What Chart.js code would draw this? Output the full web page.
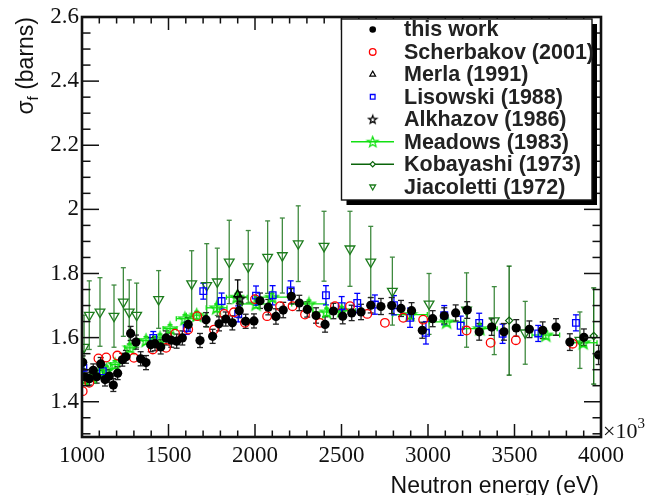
<!DOCTYPE html>
<html><head><meta charset="utf-8">
<style>html,body{margin:0;padding:0;background:#fff;overflow:hidden}canvas{display:block}</style>
<script src="https://cdn.jsdelivr.net/npm/chart.js@4.4.0/dist/chart.umd.min.js"></script>
</head><body>
<canvas id="c" width="664" height="495"></canvas>
<script>
// ---- tick labels ----
const xTickValues = [1000,1500,2000,2500,3000,3500,4000];
const xTickLabels = ['1000','1500','2000','2500','3000','3500','4000'];
const yTickValues = [1.4,1.6,1.8,2.0,2.2,2.4,2.6];
const yTickLabels = ['1.4','1.6','1.8','2','2.2','2.4','2.6'];

// ---- this work ----
const thisWorkE = [1004,1017,1042,1065,1085,1108,1133,1158,1181,1206,1233,1254,1281,1312,1339,1370,1397,1422,1455,1486,1516,1547,1580,1614,1682,1717,1755,1792,1831,1869,1909,1946,1994,2029,2077,2121,2163,2210,2256,2302,2353,2405,2453,2507,2559,2613,2669,2728,2790,2844,2905,2967,3027,3094,3160,3227,3296,3368,3439,3510,3586,3663,3740,3820,3901,3986];
const thisWorkXS = [1.523,1.478,1.472,1.498,1.478,1.518,1.469,1.480,1.452,1.489,1.531,1.540,1.613,1.586,1.534,1.522,1.578,1.581,1.571,1.599,1.592,1.589,1.599,1.641,1.591,1.656,1.604,1.643,1.658,1.646,1.684,1.651,1.652,1.715,1.695,1.666,1.686,1.729,1.708,1.688,1.669,1.641,1.683,1.667,1.677,1.680,1.701,1.697,1.700,1.691,1.684,1.623,1.659,1.668,1.677,1.686,1.618,1.633,1.618,1.630,1.626,1.623,1.633,1.586,1.601,1.546];
const thisWorkErr = [0.02,0.02,0.02,0.02,0.02,0.02,0.02,0.02,0.02,0.02,0.02,0.02,0.022,0.022,0.022,0.022,0.022,0.022,0.022,0.022,0.022,0.022,0.022,0.022,0.022,0.022,0.022,0.022,0.022,0.022,0.022,0.022,0.022,0.024,0.024,0.024,0.024,0.024,0.024,0.024,0.024,0.024,0.024,0.024,0.024,0.024,0.024,0.025,0.025,0.025,0.025,0.025,0.025,0.025,0.025,0.026,0.026,0.026,0.026,0.026,0.026,0.026,0.026,0.026,0.026,0.03];

// ---- Scherbakov (2001) ----
const scherbakovE = [1004,1042,1095,1140,1204,1300,1409,1486,1538,1614,1666,1763,1822,1878,1942,2000,2070,2145,2217,2289,2375,2462,2549,2649,2751,2857,2972,3223,3362,3508,3836];
const scherbakovXS = [1.433,1.459,1.535,1.538,1.544,1.537,1.563,1.568,1.612,1.625,1.667,1.625,1.674,1.679,1.646,1.720,1.667,1.698,1.698,1.672,1.646,1.698,1.698,1.674,1.646,1.662,1.656,1.622,1.584,1.592,1.581];

// ---- Merla (1991) ----
const merlaE = [1900];
const merlaXS = [1.735];
const merlaErr = [0.045];

// ---- Lisowski (1988) ----
const lisowskiE = [1008,1120,1412,1605,1701,1807,1903,2006,2102,2206,2410,2501,2591,2693,2803,2896,2988,3094,3189,3296,3431,3637,3855];
const lisowskiXS = [1.506,1.495,1.599,1.630,1.745,1.714,1.674,1.731,1.732,1.747,1.732,1.698,1.708,1.703,1.701,1.662,1.615,1.670,1.637,1.646,1.612,1.613,1.646];
const lisowskiErr = [0.02,0.02,0.02,0.02,0.025,0.025,0.025,0.03,0.03,0.03,0.03,0.03,0.03,0.03,0.03,0.03,0.035,0.03,0.03,0.03,0.03,0.025,0.025];

// ---- Alkhazov (1986) ----
const alkhazovE = [1912];
const alkhazovXS = [1.722];
const alkhazovErr = [0.02];

// ---- Meadows (1983) ----
const meadowsE = [1012,1057,1104,1143,1191,1277,1370,1451,1509,1595,1663,1778,1895,2006,2098,2312,2414,2501,2896,3108,3300,3681,3897];
const meadowsXS = [1.469,1.478,1.493,1.499,1.516,1.568,1.591,1.599,1.628,1.659,1.670,1.693,1.726,1.705,1.726,1.705,1.680,1.684,1.672,1.649,1.628,1.608,1.584];
const meadowsErr = [0.012,0.012,0.012,0.012,0.012,0.012,0.012,0.012,0.012,0.012,0.012,0.012,0.012,0.012,0.012,0.012,0.012,0.012,0.012,0.012,0.012,0.012,0.012];
const meadowsEErr = [20,20,20,20,25,30,40,40,40,50,60,60,60,80,100,100,80,80,100,100,100,80,80];

// ---- Kobayashi (1973) ----
const kobayashiE = [3469,3958];
const kobayashiXS = [1.653,1.605];
const kobayashiErr = [0.17,0.15];

// ---- Jiacoletti (1972) ----
const jiacolettiE = [1012,1042,1104,1185,1239,1273,1316,1443,1634,1721,1782,1851,1961,2073,2158,2250,2399,2549,2669,2794,3006,3223,3383,3562,3878];
const jiacolettiXS = [1.570,1.670,1.680,1.667,1.711,1.680,1.670,1.719,1.768,1.763,1.774,1.836,1.821,1.851,1.856,1.893,1.885,1.877,1.836,1.745,1.705,1.686,1.653,1.615,1.592];
const jiacolettiErr = [0.1,0.107,0.107,0.097,0.107,0.1,0.1,0.09,0.103,0.13,0.105,0.13,0.113,0.113,0.117,0.118,0.109,0.117,0.111,0.106,0.095,0.116,0.106,0.098,0.088];

const pts = (E, V) => E.map((e, i) => ({x: e, y: V[i]}));

function makeStar(color, r) {
  const s = Math.ceil(r * 2 + 4);
  const cv = document.createElement('canvas');
  cv.width = s; cv.height = s;
  const c = cv.getContext('2d');
  c.translate(s / 2, s / 2 + 0.5);
  c.beginPath();
  for (let k = 0; k < 10; k++) {
    const rr = k % 2 === 0 ? r : r * 0.42;
    const a = -Math.PI / 2 + k * Math.PI / 5;
    const px = rr * Math.cos(a), py = rr * Math.sin(a);
    if (k === 0) c.moveTo(px, py); else c.lineTo(px, py);
  }
  c.closePath();
  c.strokeStyle = color; c.lineWidth = 1.5; c.stroke();
  return cv;
}
const greenStar = makeStar('#12e012', 6.5);
const blackStar = makeStar('#000000', 5);

const JIA = '#1c7c1c', KOB = '#0a640a', MEA = '#12e012';

const datasets = [
  {label: 'this work', data: pts(thisWorkE, thisWorkXS), errY: thisWorkErr, errColor: '#222', cap: 3,
   pointStyle: 'circle', pointRadius: 4.6, backgroundColor: '#000', borderColor: '#000', borderWidth: 0},
  {label: 'Scherbakov (2001)', data: pts(scherbakovE, scherbakovXS),
   pointStyle: 'circle', pointRadius: 4.3, backgroundColor: 'rgba(0,0,0,0)', borderColor: '#ff0000', borderWidth: 1.3},
  {label: 'Merla (1991)', data: pts(merlaE, merlaXS), errY: merlaErr, errColor: '#000', cap: 3,
   pointStyle: 'triangle', pointRadius: 4.5, backgroundColor: 'rgba(0,0,0,0)', borderColor: '#000', borderWidth: 1.2},
  {label: 'Lisowski (1988)', data: pts(lisowskiE, lisowskiXS), errY: lisowskiErr, errColor: '#0000ff', cap: 3,
   pointStyle: 'rect', pointRadius: 4.7, backgroundColor: 'rgba(0,0,0,0)', borderColor: '#0000ff', borderWidth: 1.3},
  {label: 'Alkhazov (1986)', data: pts(alkhazovE, alkhazovXS), errY: alkhazovErr, errColor: '#000', cap: 3,
   pointStyle: blackStar, pointRadius: 5},
  {label: 'Meadows (1983)', data: pts(meadowsE, meadowsXS), errY: meadowsErr, errX: meadowsEErr, errColor: MEA, cap: 2.5,
   pointStyle: greenStar, pointRadius: 6},
  {label: 'Kobayashi (1973)', data: pts(kobayashiE, kobayashiXS), errY: kobayashiErr, errColor: KOB, cap: 2.5,
   pointStyle: 'rectRot', pointRadius: 3.6, backgroundColor: 'rgba(0,0,0,0)', borderColor: KOB, borderWidth: 1.2},
  {label: 'Jiacoletti (1972)', data: pts(jiacolettiE, jiacolettiXS), errY: jiacolettiErr, errColor: '#3f8a3f', cap: 2.5,
   pointStyle: 'triangle', rotation: 180, pointRadius: 5.6, backgroundColor: 'rgba(0,0,0,0)', borderColor: JIA, borderWidth: 1.3}
];
datasets.forEach(d => { d.showLine = false; d.pointHoverRadius = d.pointRadius; });

const errorBars = {
  id: 'errorBars',
  beforeDatasetsDraw(chart) {
    const {ctx, chartArea: a, scales: {x, y}} = chart;
    ctx.save();
    ctx.beginPath(); ctx.rect(a.left, a.top, a.width, a.height); ctx.clip();
    const seg = (x1, y1, x2, y2) => { ctx.beginPath(); ctx.moveTo(x1, y1); ctx.lineTo(x2, y2); ctx.stroke(); };
    chart.data.datasets.slice().reverse().forEach(ds => {
      if (!ds.errY && !ds.errX) return;
      ctx.strokeStyle = ds.errColor; ctx.lineWidth = 1.3;
      const c = ds.cap || 3;
      ds.data.forEach((p, j) => {
        const px = x.getPixelForValue(p.x), py = y.getPixelForValue(p.y);
        if (ds.errY) {
          const e = ds.errY[j];
          const y1 = y.getPixelForValue(p.y + e), y2 = y.getPixelForValue(p.y - e);
          seg(px, y1, px, y2); seg(px - c, y1, px + c, y1); seg(px - c, y2, px + c, y2);
        }
        if (ds.errX) {
          const e = ds.errX[j];
          const x1 = x.getPixelForValue(p.x - e), x2 = x.getPixelForValue(p.x + e);
          seg(x1, py, x2, py); seg(x1, py - c, x1, py + c); seg(x2, py - c, x2, py + c);
        }
      });
    });
    ctx.restore();
  }
};

const frameAndLabels = {
  id: 'frameAndLabels',
  afterDraw(chart) {
    const {ctx, chartArea: a, scales: {x, y}} = chart;
    const seg = (x1, y1, x2, y2) => { ctx.beginPath(); ctx.moveTo(x1, y1); ctx.lineTo(x2, y2); ctx.stroke(); };
    ctx.save();
    ctx.strokeStyle = '#111';
    ctx.lineWidth = 1.5;
    // x ticks (every 100, major every 500), bottom and top, inward
    for (let k = 0; k <= 30; k++) {
      const v = 1000 + k * 100;
      const px = x.getPixelForValue(v);
      const L = (k % 5 === 0) ? 13 : 6.5;
      seg(px, a.bottom, px, a.bottom - L);
      seg(px, a.top, px, a.top + L);
    }
    // y ticks (every 0.05, major every 0.2), left and right, inward
    for (let k = 0; k <= 26; k++) {
      const v = 1.3 + k * 0.05;
      const py = y.getPixelForValue(v);
      const r = v / 0.2;
      const L = Math.abs(r - Math.round(r)) < 1e-6 ? 17 : 8.5;
      seg(a.left, py, a.left + L, py);
      seg(a.right, py, a.right - L, py);
    }
    ctx.lineWidth = 2.6;
    ctx.strokeRect(a.left, a.top, a.width, a.height);

    // x10^3
    ctx.fillStyle = '#111';
    ctx.textBaseline = 'alphabetic';
    ctx.textAlign = 'left';
    ctx.font = '22px "Liberation Serif"';
    ctx.fillText('\u00d710', a.right + 2, a.bottom + 1);
    const w10 = ctx.measureText('\u00d710').width;
    ctx.font = '15px "Liberation Serif"';
    ctx.fillText('3', a.right + 2 + w10, a.bottom - 9);

    // x title
    ctx.font = '23px "Liberation Sans"';
    ctx.textAlign = 'right';
    ctx.fillText('Neutron energy (eV)', a.right - 2, 493);

    // y title
    ctx.save();
    ctx.translate(33, a.top);
    ctx.rotate(-Math.PI / 2);
    ctx.textAlign = 'left';
    ctx.font = '23px "Liberation Sans"';
    const wS = ctx.measureText('\u03c3').width;
    const wR = ctx.measureText(' (barns)').width;
    ctx.font = '15px "Liberation Sans"';
    const wF = ctx.measureText('f').width;
    const x0 = -(wS + wF + wR);
    ctx.font = '23px "Liberation Sans"';
    ctx.fillText('\u03c3', x0, 0);
    ctx.font = '15px "Liberation Sans"';
    ctx.fillText('f', x0 + wS, 5);
    ctx.font = '23px "Liberation Sans"';
    ctx.fillText(' (barns)', x0 + wS + wF, 0);
    ctx.restore();

    // legend
    const L = {x: 341.5, y: 19, w: 250.5, h: 181};
    ctx.fillStyle = '#000';
    ctx.fillRect(L.x + 5, L.y + 5, L.w, L.h);
    ctx.fillStyle = '#fff';
    ctx.fillRect(L.x, L.y, L.w, L.h);
    ctx.lineWidth = 1.4;
    ctx.strokeStyle = '#111';
    ctx.strokeRect(L.x, L.y, L.w, L.h);
    const rowY0 = 29.5, dy = 22.45, mx = 372.7, tx = 404;
    chart.data.datasets.forEach((ds, i) => {
      const cy = rowY0 + i * dy;
      if (ds.label === 'Meadows (1983)' || ds.label === 'Kobayashi (1973)') {
        ctx.strokeStyle = ds.errColor; ctx.lineWidth = 1.6;
        seg(351, cy, 394, cy);
      }
      if (ds.pointStyle instanceof HTMLCanvasElement) {
        const im = ds.pointStyle;
        const sc = ds.label.startsWith('Alkhazov') ? 0.85 : 0.85;
        ctx.drawImage(im, mx - im.width * sc / 2, cy - im.height * sc / 2, im.width * sc, im.height * sc);
      } else {
        ctx.fillStyle = ds.backgroundColor === 'rgba(0,0,0,0)' ? '#fff' : ds.backgroundColor;
        ctx.strokeStyle = ds.borderColor;
        ctx.lineWidth = ds.borderWidth || 1;
        Chart.helpers.drawPoint(ctx, {
          pointStyle: ds.pointStyle, rotation: ds.rotation || 0,
          radius: ds.label.startsWith('Kobayashi') ? 2.6 : 3.3,
          borderWidth: ds.borderWidth || 0
        }, mx, cy);
      }
      ctx.fillStyle = '#222';
      ctx.textAlign = 'left';
      ctx.textBaseline = 'middle';
      ctx.font = 'bold 21.5px "Liberation Sans"';
      ctx.fillText(ds.label, tx, cy + 1);
    });
    ctx.restore();
  }
};

new Chart(document.getElementById('c'), {
  type: 'scatter',
  data: {datasets},
  options: {
    responsive: false,
    animation: false,
    devicePixelRatio: 1,
    layout: {padding: {left: 0, right: 63, top: 17, bottom: 0}},
    plugins: {legend: {display: false}, tooltip: {enabled: false}},
    scales: {
      x: {
        type: 'linear', min: 1000, max: 4000,
        afterFit: s => { s.height = 58; },
        afterBuildTicks: s => { s.ticks = xTickValues.map(v => ({value: v})); },
        grid: {display: false, drawTicks: false},
        border: {display: false},
        ticks: {
          autoSkip: false, maxRotation: 0, padding: 5, color: '#111',
          font: {family: '"Liberation Serif"', size: 23},
          callback: (v) => { const i = xTickValues.indexOf(v); return i >= 0 ? xTickLabels[i] : ''; }
        }
      },
      y: {
        type: 'linear', min: 1.29, max: 2.6,
        afterFit: s => { s.width = 82; },
        afterBuildTicks: s => { s.ticks = yTickValues.map(v => ({value: v})); },
        grid: {display: false, drawTicks: false},
        border: {display: false},
        ticks: {
          autoSkip: false, padding: 3, color: '#111',
          font: {family: '"Liberation Serif"', size: 23},
          callback: (v) => { const i = yTickValues.findIndex(t => Math.abs(t - v) < 1e-9); return i >= 0 ? yTickLabels[i] : ''; }
        }
      }
    }
  },
  plugins: [errorBars, frameAndLabels]
});
</script>
</body></html>
